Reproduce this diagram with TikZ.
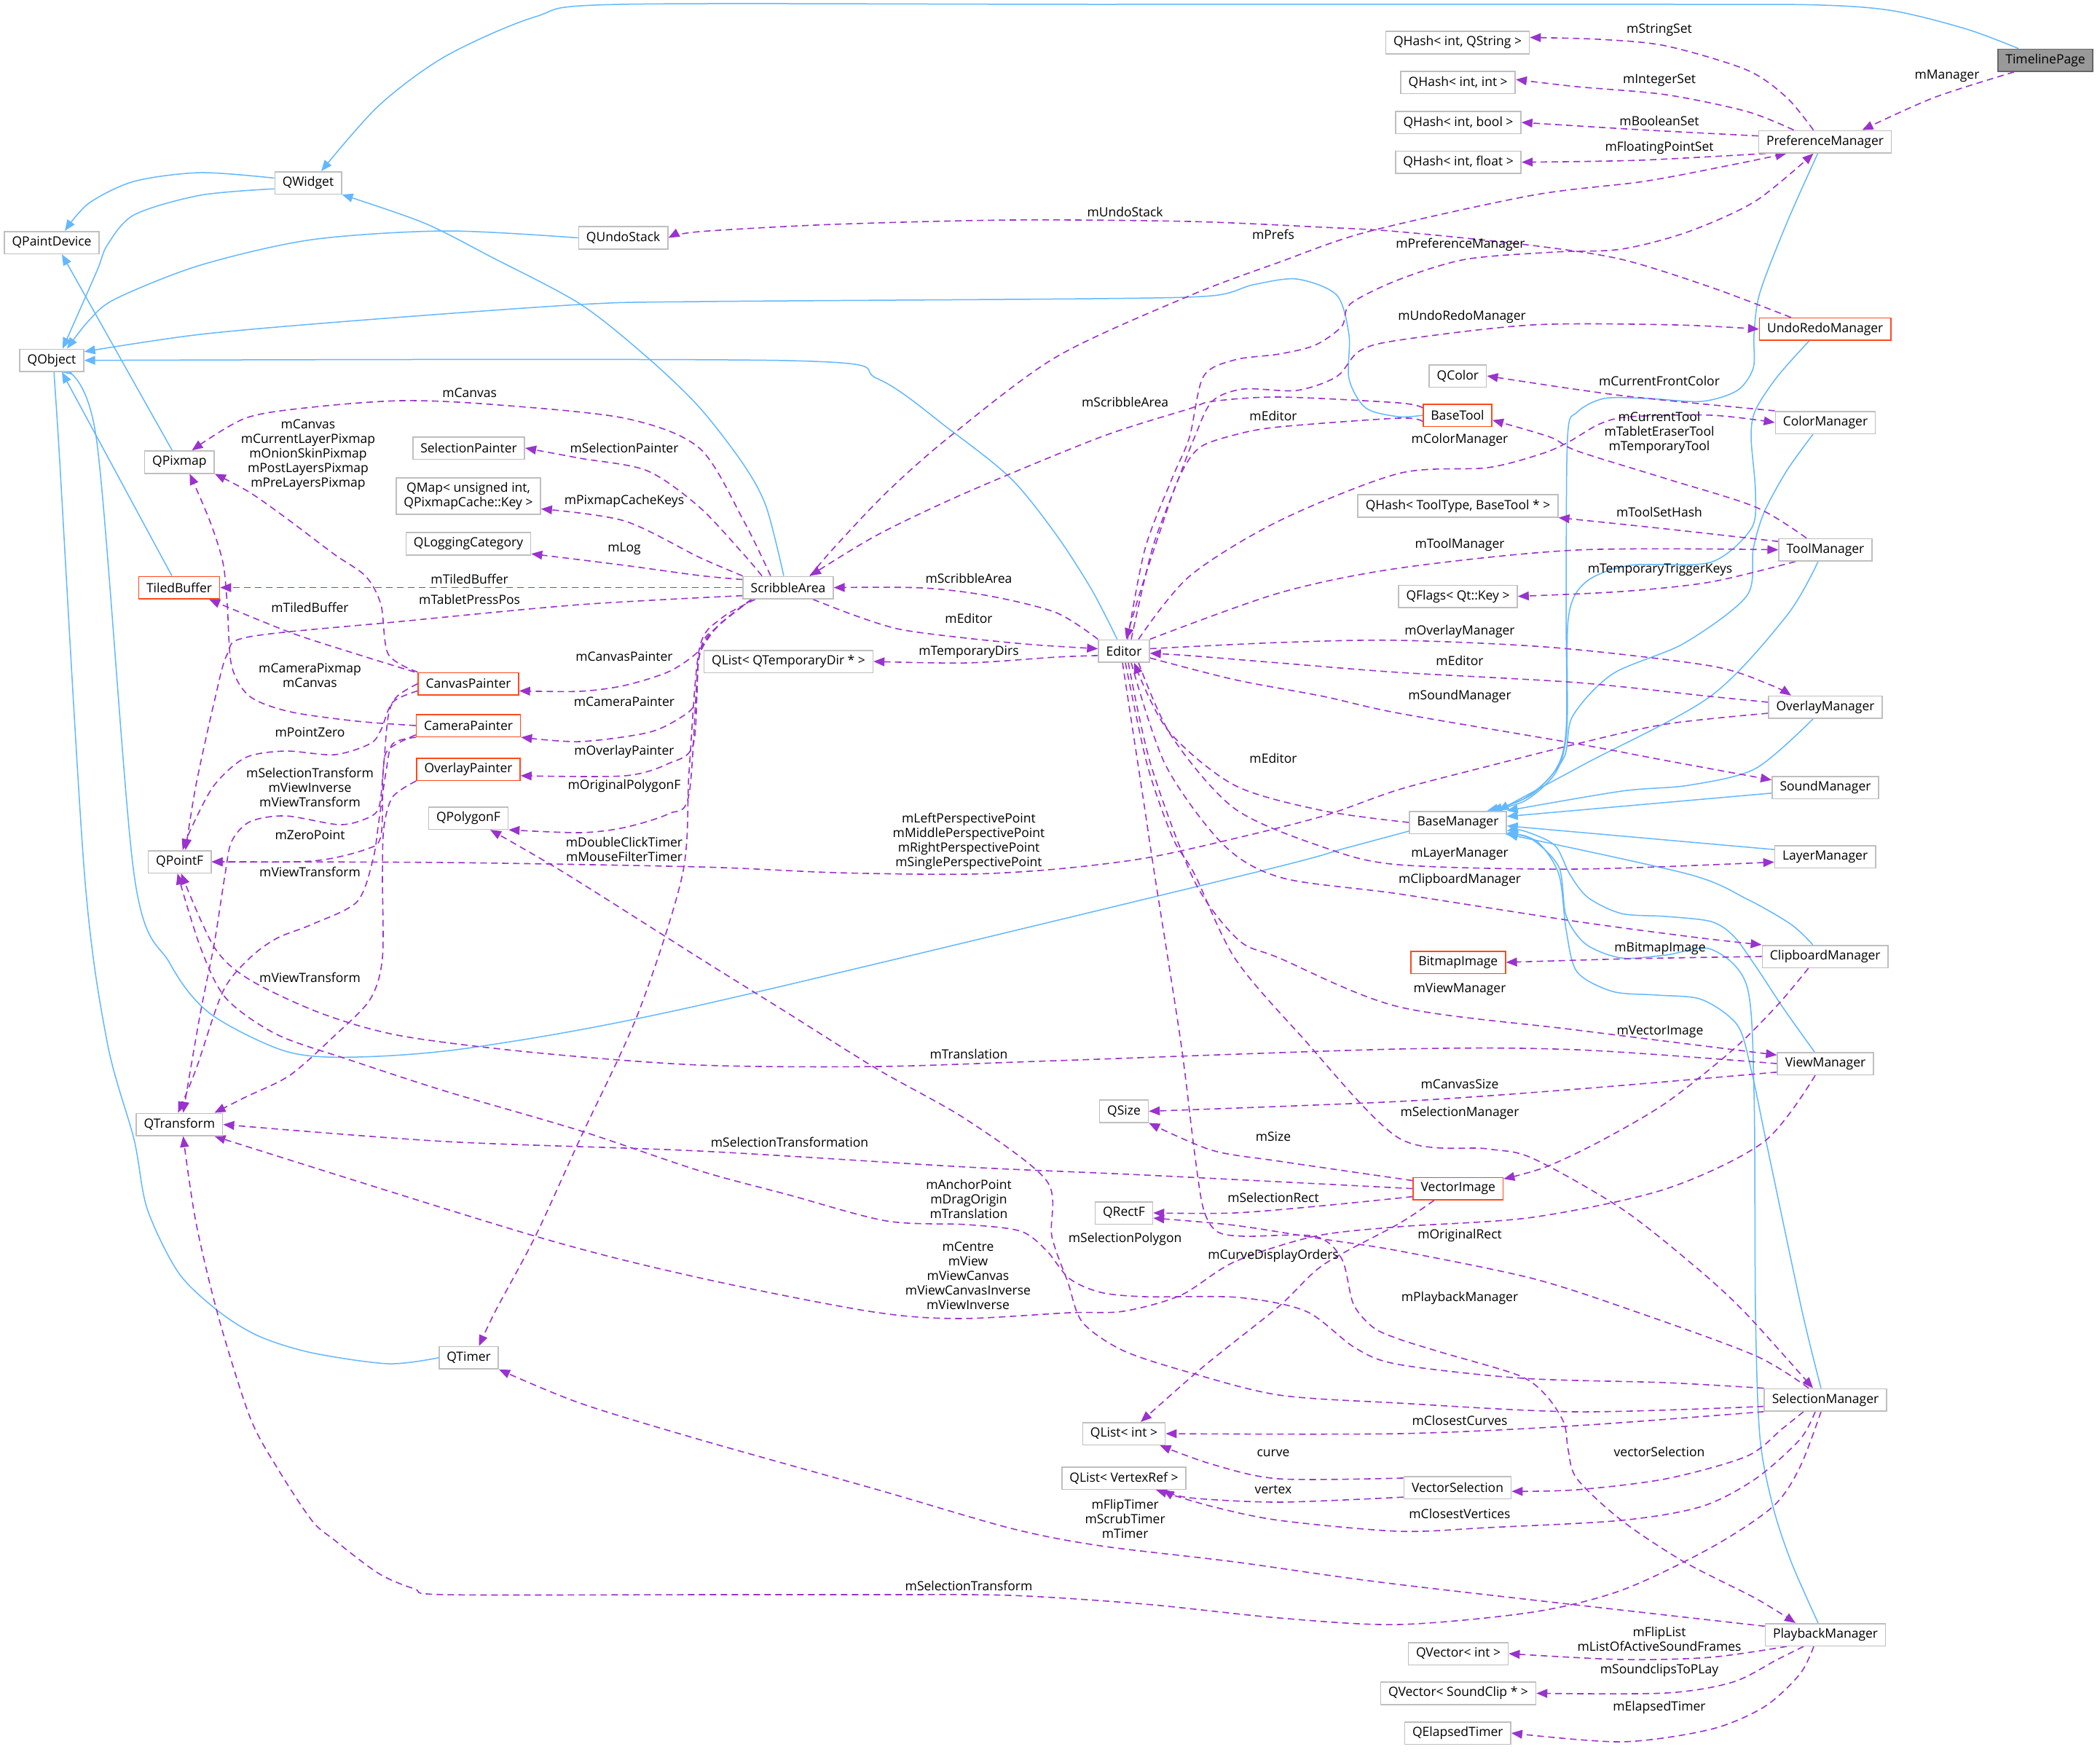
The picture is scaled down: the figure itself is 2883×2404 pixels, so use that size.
\documentclass[tikz,border=0pt]{standalone}
\usepackage{fontspec}
\setmainfont{Open Sans}
\usetikzlibrary{arrows.meta}
\definecolor{inhcol}{HTML}{63B8FF}
\definecolor{depcol}{HTML}{9A32CD}
\definecolor{boxcol}{HTML}{BFBFBF}
\definecolor{redcol}{HTML}{FF4A1C}
\definecolor{tpfill}{HTML}{999999}
\definecolor{tpdraw}{HTML}{666666}
\pgfdeclarelayer{bg}
\pgfsetlayers{bg,main}
\tikzset{
  box/.style={draw=boxcol, line width=1.6pt, fill=white, font=\fontsize{17.5}{20}\selectfont, inner xsep=10.5pt, inner ysep=0pt, minimum height=30.6pt},
  redbox/.style={box, draw=redcol},
  graybox/.style={box, fill=tpfill, draw=tpdraw},
  lbl/.style={font=\fontsize{17.5}{20}\selectfont, inner sep=0pt, align=center},
  inh/.style={draw=inhcol, line width=1.5pt, -{Triangle[length=15pt,width=12pt]}},
  dep/.style={draw=depcol, line width=1.6pt, dash pattern=on 9pt off 6pt, -{Triangle[length=15pt,width=12pt]}},
}
\begin{document}
\begin{tikzpicture}[x=1pt,y=-1pt]
\useasboundingbox (0,0) rectangle (2883,2404);
\begin{pgfonlayer}{bg}
\fill[white] (0,0) rectangle (2883,2404);
\end{pgfonlayer}
% ---------------- nodes
\node[box] (QObject) at (71,494.7) {QObject};
\node[box] (QPaintDevice) at (71,333) {QPaintDevice};
\node[box] (QWidget) at (423,251) {QWidget};
\node[box] (QUndoStack) at (855.6,326.5) {QUndoStack};
\node[box] (QPixmap) at (246.4,634.4) {QPixmap};
\node[redbox] (TiledBuffer) at (246,806.6) {TiledBuffer};
\node[box] (QPointF) at (246.7,1183) {QPointF};
\node[box] (QTransform) at (246.4,1543.6) {QTransform};
\node[box] (SelectionPainter) at (643.5,615) {SelectionPainter};
\node[box, minimum height=50.4pt, align=center] (QMap) at (643,681) {QMap< unsigned int,\\ QPixmapCache::Key >};
\node[box] (QLoggingCategory) at (643,746.5) {QLoggingCategory};
\node[redbox] (CanvasPainter) at (643,938.6) {CanvasPainter};
\node[redbox] (CameraPainter) at (643,996) {CameraPainter};
\node[redbox] (OverlayPainter) at (643,1056) {OverlayPainter};
\node[box] (QPolygonF) at (643,1123) {QPolygonF};
\node[box] (QTimer) at (643.5,1863.8) {QTimer};
\node[box] (ScribbleArea) at (1082,806.6) {ScribbleArea};
\node[box] (QListTempDir) at (1082.5,908) {QList< QTemporaryDir * >};
\node[box] (Editor) at (1543,893.6) {Editor};
\node[box] (QSize) at (1543,1525.4) {QSize};
\node[box] (QRectF) at (1543,1665) {QRectF};
\node[box] (QListInt) at (1543,1968) {QList< int >};
\node[box] (QListVertexRef) at (1543,2029) {QList< VertexRef >};
\node[box] (QHashString) at (2001,58.4) {QHash< int, QString >};
\node[box] (QHashInt) at (2001.7,113.3) {QHash< int, int >};
\node[box] (QHashBool) at (2002,168) {QHash< int, bool >};
\node[box] (QHashFloat) at (2002,222.6) {QHash< int, float >};
\node[box] (QColor) at (2001.4,516) {QColor};
\node[redbox] (BaseTool) at (2001,570) {BaseTool};
\node[box] (QHashToolType) at (2001.5,694.5) {QHash< ToolType, BaseTool * >};
\node[box] (QFlags) at (2001.5,818.6) {QFlags< Qt::Key >};
\node[box] (BaseManager) at (2001.5,1129) {BaseManager};
\node[redbox] (BitmapImage) at (2001.8,1321) {BitmapImage};
\node[redbox] (VectorImage) at (2001.8,1631.6) {VectorImage};
\node[box] (VectorSelection) at (2001,2042) {VectorSelection};
\node[box] (QVectorInt) at (2002,2270) {QVector< int >};
\node[box] (QVectorSoundClip) at (2002,2324.4) {QVector< SoundClip * >};
\node[box] (QElapsedTimer) at (2001.3,2379) {QElapsedTimer};
\node[box] (PreferenceManager) at (2505.5,194.6) {PreferenceManager};
\node[redbox] (UndoRedoManager) at (2505.7,451.8) {UndoRedoManager};
\node[box] (ColorManager) at (2506,580) {ColorManager};
\node[box] (ToolManager) at (2506,754.7) {ToolManager};
\node[box] (OverlayManager) at (2506,970.8) {OverlayManager};
\node[box] (SoundManager) at (2506,1081) {SoundManager};
\node[box] (LayerManager) at (2505.6,1176) {LayerManager};
\node[box] (ClipboardManager) at (2505.7,1313) {ClipboardManager};
\node[box] (ViewManager) at (2506,1460) {ViewManager};
\node[box] (SelectionManager) at (2506,1921.7) {SelectionManager};
\node[box] (PlaybackManager) at (2506,2244) {PlaybackManager};
\node[graybox] (TimelinePage) at (2808,82.7) {TimelinePage};
% ---------------- labels
\node[lbl] (l01) at (2278,41.3) {mStringSet};
\node[lbl] (l02) at (2278,110) {mIntegerSet};
\node[lbl] (l03) at (2278,166) {mBooleanSet};
\node[lbl] (l04) at (2278,203) {mFloatingPointSet};
\node[lbl] (l05) at (2673,104) {mManager};
\node[lbl] (l06) at (1544.6,290.9) {mUndoStack};
\node[lbl] (l07) at (1748,321.5) {mPrefs};
\node[lbl] (l08) at (2005,336) {mPreferenceManager};
\node[lbl] (l09) at (2007,435) {mUndoRedoManager};
\node[lbl] (l10) at (2278,522.8) {mCurrentFrontColor};
\node[lbl] (l11) at (1544.6,551.9) {mScribbleArea};
\node[lbl] (l12) at (1748,571) {mEditor};
\node[lbl] (l13) at (2004,604) {mColorManager};
\node[lbl] (l14) at (2278,594) {mCurrentTool\\mTabletEraserTool\\mTemporaryTool};
\node[lbl] (l15) at (2278,702.6) {mToolSetHash};
\node[lbl] (l16) at (2004,747.7) {mToolManager};
\node[lbl] (l17) at (2279,781.8) {mTemporaryTriggerKeys};
\node[lbl] (l18) at (2004,866.7) {mOverlayManager};
\node[lbl] (l19) at (2004,907) {mEditor};
\node[lbl] (l20) at (2004,956) {mSoundManager};
\node[lbl] (l21) at (1748,1041) {mEditor};
\node[lbl] (l22) at (2004,1172.5) {mLayerManager};
\node[lbl] (l23) at (2004,1208.4) {mClipboardManager};
\node[lbl] (l24) at (2279,1302.6) {mBitmapImage};
\node[lbl] (l25) at (2004,1357.7) {mViewManager};
\node[lbl] (l26) at (2279,1416) {mVectorImage};
\node[lbl] (l27) at (2004,1487.8) {mCanvasSize};
\node[lbl] (l28) at (2004,1528) {mSelectionManager};
\node[lbl] (l29) at (2004,1696) {mOriginalRect};
\node[lbl] (l30) at (2004,1781.7) {mPlaybackManager};
\node[lbl] (l31) at (1330,794.4) {mScribbleArea};
\node[lbl] (l32) at (1330,849) {mEditor};
\node[lbl] (l33) at (1330,894.7) {mTemporaryDirs};
\node[lbl] (l34) at (1330,1155.3) {mLeftPerspectivePoint\\mMiddlePerspectivePoint\\mRightPerspectivePoint\\mSinglePerspectivePoint};
\node[lbl] (l35) at (1330,1446.8) {mTranslation};
\node[lbl] (l36) at (1084,1568) {mSelectionTransformation};
\node[lbl] (l37) at (1748,1559.7) {mSize};
\node[lbl] (l38) at (1748,1644) {mSelectionRect};
\node[lbl] (l39) at (1330,1645.5) {mAnchorPoint\\mDragOrigin\\mTranslation};
\node[lbl] (l40) at (1544.6,1701) {mSelectionPolygon};
\node[lbl] (l41) at (1748,1724) {mCurveDisplayOrders};
\node[lbl] (l42) at (1329,1751) {mCentre\\mView\\mViewCanvas\\mViewCanvasInverse\\mViewInverse};
\node[lbl] (l43) at (1748,1994.4) {curve};
\node[lbl] (l44) at (1748,2045) {vertex};
\node[lbl] (l45) at (1544.6,2084.7) {mFlipTimer\\mScrubTimer\\mTimer};
\node[lbl] (l46) at (1330,2177) {mSelectionTransform};
\node[lbl] (l47) at (2004,1950) {mClosestCurves};
\node[lbl] (l48) at (2278,1993) {vectorSelection};
\node[lbl] (l49) at (2004,2078) {mClosestVertices};
\node[lbl] (l50) at (2278,2250) {mFlipList\\mListOfActiveSoundFrames};
\node[lbl] (l51) at (2278,2293) {mSoundclipsToPLay};
\node[lbl] (l52) at (2278,2344) {mElapsedTimer};
\node[lbl] (l53) at (644.6,538.8) {mCanvas};
\node[lbl] (l54) at (423,624.5) {mCanvas\\mCurrentLayerPixmap\\mOnionSkinPixmap\\mPostLayersPixmap\\mPreLayersPixmap};
\node[lbl] (l55) at (857,614.5) {mSelectionPainter};
\node[lbl] (l56) at (857,688) {mPixmapCacheKeys};
\node[lbl] (l57) at (857,753.8) {mLog};
\node[lbl] (l58) at (644.6,794.4) {mTiledBuffer};
\node[lbl] (l59) at (644.6,822.7) {mTabletPressPos};
\node[lbl] (l60) at (425.5,833.4) {mTiledBuffer};
\node[lbl] (l61) at (425.5,927.5) {mCameraPixmap\\mCanvas};
\node[lbl] (l62) at (857,901) {mCanvasPainter};
\node[lbl] (l63) at (857,962.8) {mCameraPainter};
\node[lbl] (l64) at (425.5,1005) {mPointZero};
\node[lbl] (l65) at (857,1032) {mOverlayPainter};
\node[lbl] (l66) at (425.5,1081) {mSelectionTransform\\mViewInverse\\mViewTransform};
\node[lbl] (l67) at (857,1079) {mOriginalPolygonF};
\node[lbl] (l68) at (425.5,1146.5) {mZeroPoint};
\node[lbl] (l69) at (857,1165.6) {mDoubleClickTimer\\mMouseFilterTimer};
\node[lbl] (l70) at (425.5,1197) {mViewTransform};
\node[lbl] (l71) at (425.5,1341.6) {mViewTransform};
% ---------------- edges
\begin{pgfonlayer}{bg}
% inheritance
\draw[inh] plot[smooth] coordinates {([xshift=29pt]TimelinePage.north west) (2700,40) (2600,15) (2500,7) (2300,6) (1500,6) (851,6) (735,23) (612,77) (520,145) ([xshift=18pt]QWidget.north)};
\draw[inh] plot[smooth] coordinates {(QWidget.172) (275,237) (184,249) (122,279) ([xshift=18pt]QPaintDevice.north)};
\draw[inh] plot[smooth] coordinates {(QWidget.190) (275,268) (184,295) (147,337) (133,372) ([xshift=15pt]QObject.north)};
\draw[inh] plot[smooth] coordinates {(QUndoStack.west) (612,317) (428,329) (275,364) (159,410) (122,440) ([xshift=21pt]QObject.north)};
\draw[inh] plot[smooth] coordinates {(BaseTool.west) (1920,572) (1875,560) (1852,520) (1852,460) (1835,405) (1780,383) (1720,391) (1664,406) (1500,410) (960,414) (796,418) (490,440) (275,459) (QObject.15)};
\draw[inh] plot[smooth] coordinates {(Editor.120) (1499,810) (1450,734) (1388,657) (1303,589) (1205,520) (1082,495) (QObject.east)};
\draw[inh] plot[smooth] coordinates {([xshift=-6pt]ScribbleArea.north) (1052,696) (1021,638) (960,559) (888,490) (796,417) (673,352) (582,306) (QWidget.south east)};
\draw[inh] ([xshift=-10pt]TiledBuffer.north) -- ([xshift=14pt]QObject.south);
\draw[inh] ([xshift=-10pt]QPixmap.north) -- ([xshift=14pt]QPaintDevice.south);
\draw[inh] plot[smooth] coordinates {(QTimer.west) (533,1872) (428,1857) (355,1834) (300,1800) (245,1747) (202,1659) (184,1564) (147,1430) (116,1200) (80,600) ([xshift=2pt]QObject.south)};
\draw[inh] plot[smooth] coordinates {(BaseManager.190) (1848,1164) (1713,1200) (960,1380) (655,1437) (490,1451) (392,1443) (288,1391) (233,1322) (184,1200) (132,600) ([xshift=12pt]QObject.south)};
\draw[inh] plot[smooth] coordinates {([xshift=-10pt]PreferenceManager.south) (2453,306) (2416,402) (2408,459) (2407,505) (2385,536) (2336,551) (2263,547) (2202,547) (2165,566) (2152,600) (2150,830) (2150,1002) (2134,1059) (2091,1097) ([xshift=40pt]BaseManager.north)};
\draw[inh] plot[smooth] coordinates {([xshift=-22pt]UndoRedoManager.south) (2440,517) (2410,563) (2404,600) (2410,676) (2404,726) (2348,772) (2238,776) (2177,799) (2153,849) (2151,1002) (2136,1060) (2094,1099) ([xshift=43pt]BaseManager.north)};
\draw[inh] plot[smooth] coordinates {([xshift=-17pt]ColorManager.south) (2453,646) (2422,703) (2407,753) (2398,818) (2312,883) (2214,925) (2159,983) (2147,1040) (2104,1090) ([xshift=46pt]BaseManager.north)};
\draw[inh] plot[smooth] coordinates {([xshift=-10pt]ToolManager.south) (2453,845) (2348,956) (2177,1048) ([xshift=55pt]BaseManager.north)};
\draw[inh] plot[smooth] coordinates {([xshift=-17pt]OverlayManager.south) (2410,1055) (2318,1078) (2226,1086) (BaseManager.north east)};
\draw[inh] (SoundManager.186) -- (BaseManager.7);
\draw[inh] (LayerManager.172) -- (BaseManager.356);
\draw[inh] plot[smooth] coordinates {([xshift=-17pt]ClipboardManager.north) (2459,1269) (2398,1234) (2318,1200) (BaseManager.south east)};
\draw[inh] plot[smooth] coordinates {([xshift=-15pt]ViewManager.north) (2449,1385) (2410,1326) (2380,1285) (2349,1265) (2287,1258) (2226,1254) (2180,1232) (2155,1200) (2134,1160) (2090,1140) (BaseManager.350)};
\draw[inh] plot[smooth] coordinates {([xshift=-6pt]SelectionManager.north) (2474,1800) (2428,1583) (2404,1468) (2385,1407) (2336,1372) (2275,1366) (2214,1361) (2165,1334) (2150,1276) (2140,1200) (2110,1155) (BaseManager.348)};
\draw[inh] plot[smooth] coordinates {([xshift=-10pt]PlaybackManager.north) (2459,2144) (2434,2068) (2416,1972) (2410,1800) (2408,1500) (2398,1353) (2349,1303) (2287,1311) (2226,1315) (2177,1296) (2150,1257) (2140,1190) (2100,1150) (BaseManager.346)};
% usage
\draw[dep] plot[smooth] coordinates {([xshift=-43pt]TimelinePage.south) (2655,134) ([xshift=51pt]PreferenceManager.north)};
\draw[dep] plot[smooth] coordinates {([xshift=-16pt]PreferenceManager.north) (2453,134) (2398,96) (2287,63) (2196,54) (QHashString.4)};
\draw[dep] plot[smooth] coordinates {([xshift=-43pt]PreferenceManager.north) (2398,153) (2287,130) (2165,119) (QHashInt.3)};
\draw[dep] plot[smooth] coordinates {(PreferenceManager.175) (2250,178) (QHashBool.east)};
\draw[dep] plot[smooth] coordinates {([xshift=10pt]PreferenceManager.south west) (2250,220) (QHashFloat.east)};
\draw[dep] plot[smooth] coordinates {([xshift=30pt]ScribbleArea.north) (1144,753) (1217,676) (1303,600) (1450,490) (1633,406) (1756,360) (1878,318) (2104,268) (2257,249) (2379,226) ([xshift=-53pt]PreferenceManager.south)};
\draw[dep] plot[smooth] coordinates {([xshift=5pt]Editor.north) (1572,753) (1609,657) (1633,600) (1652,517) (1695,494) (1756,486) (1805,474) (1842,448) (1854,417) (1920,384) (2012,356) (2134,346) (2226,342) (2318,318) (2410,276) ([xshift=-16pt]PreferenceManager.south)};
\draw[dep] plot[smooth] coordinates {([xshift=10pt]Editor.north) (1582,753) (1618,657) (1640,600) (1664,551) (1707,534) (1780,536) (1835,517) (1866,482) (1920,467) (2104,446) (2300,446) (UndoRedoManager.west)};
\draw[dep] plot[smooth] coordinates {([xshift=-47pt]UndoRedoManager.north) (2348,394) (2226,356) (2104,337) (1920,318) (1817,312) (1633,304) (1388,302) (1144,308) (960,318) (QUndoStack.east)};
\draw[dep] plot[smooth] coordinates {(BaseTool.168) (1920,553) (1756,545) (1664,551) (1633,561) (1511,600) (1327,676) (1205,734) ([xshift=30pt]ScribbleArea.north)};
\draw[dep] plot[smooth] coordinates {(BaseTool.190) (1920,574) (1756,586) (1695,597) (1646,615) (1618,657) (1591,734) (1566,810) ([xshift=3pt]Editor.north)};
\draw[dep] plot[smooth] coordinates {(ColorManager.north west) (2226,543) (QColor.east)};
\draw[dep] plot[smooth] coordinates {([xshift=20pt]Editor.north) (1633,791) (1756,715) (1920,650) (2042,642) (2116,623) (2153,607) (2196,582) (2238,572) (2350,570) (ColorManager.west)};
\draw[dep] plot[smooth] coordinates {([xshift=-26pt]ToolManager.north) (2410,696) (2287,657) (2165,619) (2128,600) (BaseTool.352)};
\draw[dep] plot[smooth] coordinates {(Editor.north east) (1756,814) (1920,780) (2165,755) (ToolManager.west)};
\draw[dep] plot[smooth] coordinates {(ToolManager.170) (2287,726) (QHashToolType.south east)};
\draw[dep] plot[smooth] coordinates {([xshift=-41pt]ToolManager.south) (2348,799) (2226,812) (QFlags.east)};
\draw[dep] plot[smooth] coordinates {(Editor.5) (1756,882) (1920,879) (2134,889) (2348,914) (2430,940) ([xshift=-47pt]OverlayManager.north)};
\draw[dep] plot[smooth] coordinates {(OverlayManager.175) (2348,956) (2165,937) (1920,923) (1756,910) (1633,900) (Editor.355)};
\draw[dep] plot[smooth] coordinates {(OverlayManager.186) (2287,994) (2165,1021) (2042,1052) (1920,1084) (1817,1120) (1695,1151) (1572,1178) (1450,1193) (1327,1200) (1150,1198) (960,1190) (612,1184) (QPointF.east)};
\draw[dep] plot[smooth] coordinates {(Editor.345) (1695,933) (1817,956) (1920,979) (2165,1021) (2287,1044) (SoundManager.172)};
\draw[dep] plot[smooth] coordinates {([xshift=20pt]Editor.south) (1608,1010) (1695,1110) (1817,1163) (1920,1187) (2165,1193) (LayerManager.186)};
\draw[dep] plot[smooth] coordinates {(BaseManager.west) (1817,1113) (1695,1078) (1603,1002) ([xshift=14pt]Editor.south)};
\draw[dep] plot[smooth] coordinates {([xshift=10pt]Editor.south) (1600,1050) (1680,1160) (1760,1205) (1920,1227) (2165,1265) (2330,1287) (ClipboardManager.north west)};
\draw[dep] plot[smooth] coordinates {(ClipboardManager.west) (2240,1316) (BitmapImage.east)};
\draw[dep] plot[smooth] coordinates {([xshift=-23pt]ClipboardManager.south) (2440,1380) (2379,1441) (2287,1514) (2196,1567) (2122,1602) (VectorImage.12)};
\draw[dep] plot[smooth] coordinates {([xshift=6pt]Editor.south) (1580,1050) (1640,1210) (1700,1290) (1756,1315) (1920,1382) (2165,1414) (ViewManager.170)};
\draw[dep] plot[smooth] coordinates {(ViewManager.west) (2165,1441) (1920,1440) (1450,1456) (1205,1464) (960,1462) (735,1445) (551,1422) (441,1391) (343,1345) (294,1300) ([xshift=2pt]QPointF.south)};
\draw[dep] plot[smooth] coordinates {(ViewManager.190) (2165,1495) (1920,1512) (QSize.east)};
\draw[dep] plot[smooth] coordinates {([xshift=-14pt]ViewManager.south) (2422,1567) (2287,1632) (2104,1671) (1920,1684) (1805,1697) (1695,1732) (1621,1778) (1542,1800) (1468,1802) (1315,1810) (1193,1800) (960,1754) (735,1697) ([xshift=-12pt]QTransform.south east)};
\draw[dep] plot[smooth] coordinates {(VectorImage.170) (1756,1594) (1664,1579) (QSize.south east)};
\draw[dep] plot[smooth] coordinates {(VectorImage.west) (1572,1613) (1327,1602) (960,1580) (612,1567) (QTransform.east)};
\draw[dep] plot[smooth] coordinates {(VectorImage.190) (1817,1655) (1695,1665) (QRectF.east)};
\draw[dep] plot[smooth] coordinates {([xshift=-33pt]VectorImage.south) (1920,1680) (1817,1736) (1756,1793) (1652,1876) ([xshift=23pt]QListInt.north)};
\draw[dep] plot[smooth] coordinates {([xshift=-23pt]SelectionManager.north) (2410,1861) (2244,1800) (2104,1755) (1920,1717) (1817,1701) (1695,1682) (QRectF.350)};
\draw[dep] plot[smooth] coordinates {(SelectionManager.186) (2165,1938) (1920,1926) (1756,1915) (1633,1884) (1542,1854) (1486,1815) (1466,1760) (1444,1697) (1437,1621) (1327,1537) (1205,1468) (1082,1391) (960,1315) (778,1200) ([xshift=30pt]QPolygonF.south)};
\draw[dep] plot[smooth] coordinates {(SelectionManager.south west) (2165,1957) (1920,1968) (QListInt.east)};
\draw[dep] plot[smooth] coordinates {([xshift=-30pt]SelectionManager.south) (2447,1961) (2398,1999) (2287,2030) (2165,2045) (VectorSelection.356)};
\draw[dep] plot[smooth] coordinates {([xshift=-14pt]SelectionManager.south) (2471,1976) (2410,2030) (2336,2068) (2226,2087) (2042,2097) (1920,2102) (1756,2087) (1664,2068) ([xshift=-42pt]QListVertexRef.south east)};
\draw[dep] plot[smooth] coordinates {([xshift=-6pt]SelectionManager.south) (2471,2014) (2434,2068) (2348,2125) (2226,2183) (2104,2213) (1920,2230) (1756,2221) (1572,2202) (1388,2190) (1205,2189) (960,2189) (612,2189) (569,2181) (520,2160) (459,2114) (428,2087) (380,2014) (343,1945) (300,1808) (269,1678) ([xshift=5pt]QTransform.south)};
\draw[dep] plot[smooth] coordinates {(SelectionManager.north west) (2287,1898) (2091,1892) (1920,1873) (1860,1850) (1793,1800) (1700,1781) (1572,1780) (1511,1774) (1468,1755) (1437,1717) (1401,1690) (1327,1681) (1217,1676) (1082,1640) (960,1607) (796,1552) (612,1498) (480,1455) (380,1420) (310,1370) (275,1300) ([xshift=-3pt]QPointF.south)};
\draw[dep] plot[smooth] coordinates {([xshift=2pt]Editor.south) (1575,1050) (1610,1150) (1640,1200) (1695,1315) (1786,1422) (1920,1562) (2042,1577) (2104,1590) (2226,1659) (2324,1736) (2394,1800) ([xshift=-17pt]SelectionManager.north)};
\draw[dep] plot[smooth] coordinates {([xshift=-2pt]Editor.south) (1570,1100) (1585,1200) (1621,1430) (1640,1583) (1652,1659) (1670,1690) (1707,1697) (1805,1697) (1842,1728) (1858,1790) (1885,1822) (1920,1838) (1981,1857) (2085,1888) (2122,1915) (2147,1953) (2153,1991) (2165,2030) (2226,2087) (2312,2144) (2410,2194) ([xshift=-41pt]PlaybackManager.north)};
\draw[dep] plot[smooth] coordinates {(PlaybackManager.172) (1920,2175) (1695,2144) (1511,2122) (1388,2098) (1205,2045) (960,1976) (796,1926) (QTimer.south east)};
\draw[dep] plot[smooth] coordinates {([xshift=-53pt]PlaybackManager.south) (2348,2275) (2226,2278) (QVectorInt.east)};
\draw[dep] plot[smooth] coordinates {([xshift=-30pt]PlaybackManager.south) (2440,2278) (2379,2309) (2287,2324) (QVectorSoundClip.east)};
\draw[dep] plot[smooth] coordinates {([xshift=-16pt]PlaybackManager.south) (2471,2298) (2422,2343) (2348,2374) (2226,2391) (QElapsedTimer.east)};
\draw[dep] plot[smooth] coordinates {(VectorSelection.170) (1756,2030) (1664,2010) ([xshift=-8pt]QListInt.south east)};
\draw[dep] plot[smooth] coordinates {(VectorSelection.190) (1756,2062) (1633,2056) ([xshift=-32pt]QListVertexRef.south east)};
% ScribbleArea / Editor side
\draw[dep] plot[smooth] coordinates {(Editor.north west) (1450,841) (1358,818) (1266,807) (ScribbleArea.east)};
\draw[dep] plot[smooth] coordinates {([xshift=34pt]ScribbleArea.south) (1174,845) (1236,864) (1327,876) (1419,885) (Editor.175)};
\draw[dep] plot[smooth] coordinates {(Editor.190) (1450,902) (1327,910) (QListTempDir.east)};
\draw[dep] plot[smooth] coordinates {([xshift=-45pt]ScribbleArea.south) (990,849) (960,891) (946,1059) (937,1200) (876,1391) (796,1564) (735,1697) (680,1800) ([xshift=14pt]QTimer.north)};
\draw[dep] plot[smooth] coordinates {([xshift=-24pt]ScribbleArea.north) (1021,715) (960,615) (857,574) (673,555) (551,550) (428,559) (337,574) ([xshift=17pt]QPixmap.north)};
\draw[dep] plot[smooth] coordinates {([xshift=-36pt]ScribbleArea.north) (1021,761) (960,696) (888,646) (796,629) (SelectionPainter.east)};
\draw[dep] plot[smooth] coordinates {(ScribbleArea.north west) (960,765) (857,715) (QMap.350)};
\draw[dep] plot[smooth] coordinates {(ScribbleArea.170) (960,790) (857,776) (QLoggingCategory.351)};
\draw[dep] (ScribbleArea.west) -- (TiledBuffer.east);
\draw[dep] plot[smooth] coordinates {(ScribbleArea.190) (796,830) (551,853) (343,874) (312,898) (294,964) (269,1078) ([xshift=8pt]QPointF.north)};
\draw[dep] plot[smooth] coordinates {([xshift=-50pt]ScribbleArea.south) (985,860) (958,895) (918,922) (857,941) (796,949) (CanvasPainter.352)};
\draw[dep] plot[smooth] coordinates {([xshift=-50pt]ScribbleArea.south) (985,860) (960,900) (955,964) (931,987) (888,1006) (796,1018) (CameraPainter.south east)};
\draw[dep] plot[smooth] coordinates {([xshift=-50pt]ScribbleArea.south) (985,860) (960,900) (952,1021) (918,1048) (857,1065) (OverlayPainter.353)};
\draw[dep] plot[smooth] coordinates {([xshift=-50pt]ScribbleArea.south) (985,860) (960,900) (946,1090) (918,1117) (857,1136) (796,1143) (QPolygonF.south east)};
% painters
\draw[dep] plot[smooth] coordinates {(CanvasPainter.north west) (533,898) (523,830) (502,791) (459,761) (398,715) (343,676) (QPixmap.south east)};
\draw[dep] plot[smooth] coordinates {(CameraPainter.west) (490,990) (398,977) (343,956) (318,914) (312,830) (306,772) (288,715) ([xshift=14pt]QPixmap.south)};
\draw[dep] plot[smooth] coordinates {([xshift=-4pt]CanvasPainter.north west) (490,898) (398,868) ([xshift=41pt]TiledBuffer.south)};
\draw[dep] plot[smooth] coordinates {(CanvasPainter.188) (539,964) (523,1002) (508,1021) (459,1036) (392,1031) (337,1040) (294,1078) (263,1136) ([xshift=4pt]QPointF.north)};
\draw[dep] plot[smooth] coordinates {(CameraPainter.190) (533,1029) (526,1059) (523,1147) (502,1166) (428,1182) (QPointF.east)};
\draw[dep] plot[smooth] coordinates {(CanvasPainter.west) (545,956) (533,983) (526,1059) (520,1109) (502,1124) (465,1132) (392,1120) (343,1128) (318,1155) (309,1200) (294,1296) (275,1391) ([xshift=5pt]QTransform.north)};
\draw[dep] plot[smooth] coordinates {(CameraPainter.south west) (539,1021) (530,1059) (520,1128) (512,1180) (490,1238) (428,1269) (380,1288) (343,1315) (306,1361) (269,1468) ([xshift=-2pt]QTransform.north)};
\draw[dep] plot[smooth] coordinates {(OverlayPainter.south west) (539,1094) (527,1136) (525,1200) (525,1315) (508,1372) (459,1422) (398,1476) (337,1506) ([xshift=-12pt]QTransform.north east)};
\end{pgfonlayer}
\end{tikzpicture}
\end{document}
